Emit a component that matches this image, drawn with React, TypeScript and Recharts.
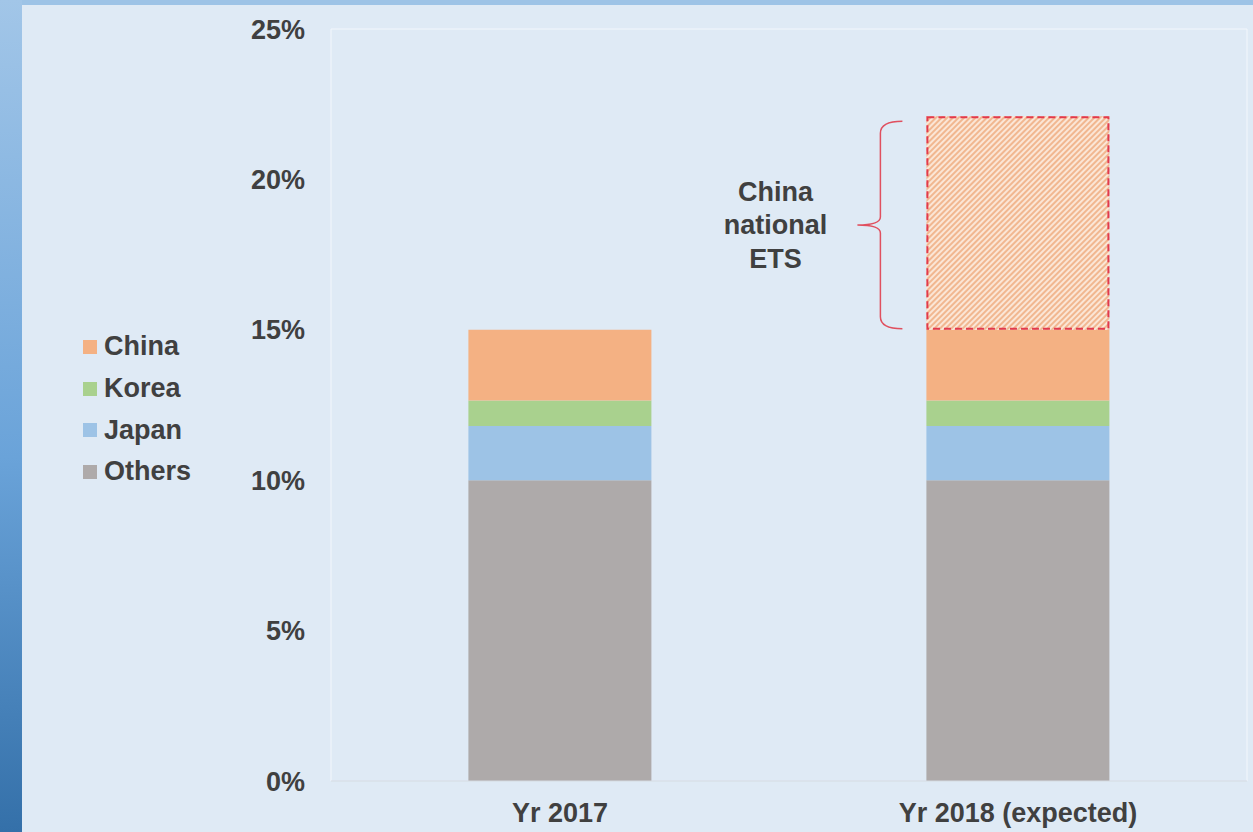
import React from 'react'
import { BarChart, Bar, XAxis, YAxis, CartesianGrid } from 'recharts'

const years = ['Yr 2017', 'Yr 2018 (expected)']
const others = [10, 10]
const japan = [1.8, 1.8]
const korea = [0.85, 0.85]
const china = [2.35, 2.35]
const chinaEts = [0, 7.1]
const yTicks = [0, 5, 10, 15, 20, 25]

const legendItems = [
  { name: 'China', color: '#f4b183' },
  { name: 'Korea', color: '#a9d18e' },
  { name: 'Japan', color: '#9dc3e6' },
  { name: 'Others', color: '#aeaaaa' },
]

const data = years.map((year, i) => ({
  year,
  others: others[i],
  japan: japan[i],
  korea: korea[i],
  china: china[i],
  ets: chinaEts[i],
}))

const FONT = '"Liberation Sans", Arial, sans-serif'
const TEXT = '#404040'
const FS = 27

// hatched ETS block + brace + label, placed from the bar geometry
function EtsShape(props: any) {
  const { x, y, width, height } = props
  if (!height || height <= 0) return null
  const top = y + 5
  const bot = y + height - 1
  const mid = (top + bot) / 2
  const sx = x - 46
  const brace = `M ${x - 24} ${top} Q ${sx} ${top} ${sx} ${top + 12} L ${sx} ${mid - 8} Q ${sx} ${mid} ${x - 69} ${mid} Q ${sx} ${mid} ${sx} ${mid + 8} L ${sx} ${bot - 12} Q ${sx} ${bot} ${x - 24} ${bot}`
  const lx = x - 151
  const t = { textAnchor: 'middle' as const, dominantBaseline: 'central' as const, fontFamily: FONT, fontWeight: 'bold', fontSize: FS, fill: TEXT }
  return (
    <g>
      <rect x={x} y={y} width={width} height={height} fill="url(#etsHatch)" />
      <rect x={x + 1} y={y + 1} width={width - 2} height={height - 2} fill="none" stroke="#e23a4c" strokeWidth={2} strokeDasharray="7 4" />
      <path d={brace} fill="none" stroke="#e0505f" strokeWidth={1.5} />
      <text x={lx} y={mid - 33} {...t}>China</text>
      <text x={lx} y={mid} {...t}>national</text>
      <text x={lx} y={mid + 34} {...t}>ETS</text>
    </g>
  )
}

export default function App() {
  return (
    <div style={{ position: 'absolute', left: 0, top: 0, width: 1253, height: 832, background: '#9dc3e6', overflow: 'hidden' }}>
      <div style={{ position: 'absolute', left: 0, top: 0, width: 22, height: 832, background: 'linear-gradient(#a2c6e8, #6aa3d9 55%, #3470a9)' }} />
      <div style={{ position: 'absolute', left: 22, top: 5, width: 1231, height: 827, background: '#dfeaf5' }} />

      <div style={{ position: 'absolute', left: 0, top: 0 }}>
        <BarChart width={1253} height={832} data={data} margin={{ top: 29, right: 6, bottom: 11, left: 251 }} barCategoryGap="30%">
          <defs>
            <pattern id="etsHatch" width="4" height="4" patternUnits="userSpaceOnUse" patternTransform="rotate(45)">
              <rect width="4" height="4" fill="#fbe6d6" />
              <rect width="2" height="4" fill="#f1b790" />
            </pattern>
          </defs>
          <CartesianGrid
            stroke="#f3f7fc"
            horizontalCoordinatesGenerator={({ offset }: any) => [offset.top]}
            verticalCoordinatesGenerator={({ offset }: any) => [offset.left, offset.left + offset.width]}
          />
          <XAxis
            dataKey="year"
            height={40}
            axisLine={{ stroke: '#d6dbe2' }}
            tickLine={false}
            tickMargin={16}
            tick={{ fontFamily: FONT, fontWeight: 'bold', fontSize: FS, fill: TEXT }}
          />
          <YAxis
            width={80}
            domain={[0, 25]}
            ticks={yTicks}
            tickFormatter={(v: number) => v + '%'}
            axisLine={false}
            tickLine={false}
            tickMargin={20}
            tick={{ fontFamily: FONT, fontWeight: 'bold', fontSize: FS, fill: TEXT }}
          />
          <Bar dataKey="others" stackId="a" fill="#aeaaaa" isAnimationActive={false} />
          <Bar dataKey="japan" stackId="a" fill="#9dc3e6" isAnimationActive={false} />
          <Bar dataKey="korea" stackId="a" fill="#a9d18e" isAnimationActive={false} />
          <Bar dataKey="china" stackId="a" fill="#f4b183" isAnimationActive={false} />
          <Bar dataKey="ets" stackId="a" shape={EtsShape} isAnimationActive={false} />
        </BarChart>
      </div>

      <div style={{ position: 'absolute', left: 83, top: 326, fontFamily: FONT, fontWeight: 'bold', fontSize: FS, color: TEXT }}>
        {legendItems.map(item => (
          <div key={item.name} style={{ display: 'flex', alignItems: 'center', height: 41.7 }}>
            <span style={{ width: 14, height: 14, background: item.color, marginRight: 7, display: 'inline-block' }} />
            <span>{item.name}</span>
          </div>
        ))}
      </div>
    </div>
  )
}
